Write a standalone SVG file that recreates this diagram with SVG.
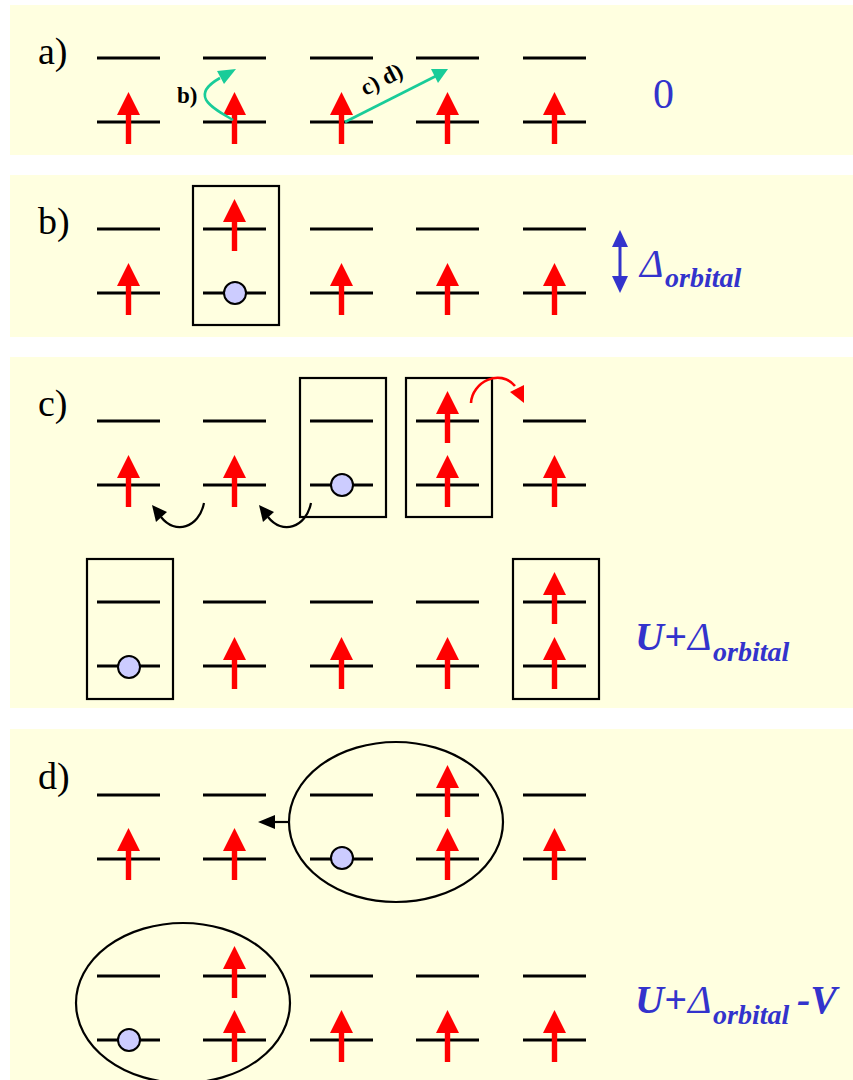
<svg xmlns="http://www.w3.org/2000/svg" width="853" height="1080" viewBox="0 0 853 1080">
<style>
.bg{fill:#FFFFE0}
.lv{stroke:#000;stroke-width:2.8;fill:none}
.box{stroke:#000;stroke-width:2.2;fill:none}
.hole{fill:#CCCCFF;stroke:#000;stroke-width:2}
text{font-family:'Liberation Serif','Times New Roman',serif}
.lab{font-size:38px;fill:#000}
.en{fill:#3333CC}
.grn{stroke:#19CC99;stroke-width:2.6;fill:none}
.grnh{fill:#19CC99}
.blk{stroke:#000;stroke-width:2.2;fill:none}
.red{stroke:#FF0000;stroke-width:2.6;fill:none}
.tag{font-size:23px;font-weight:bold;fill:#000}
</style>
<defs>
<path id="up" d="M0,-30 L11.5,-7 L2.7,-7 L2.7,22 L-2.7,22 L-2.7,-7 L-11.5,-7 Z" fill="#FF0000"/>
<g id="site">
<line class="lv" x1="-31.5" y1="0" x2="31.5" y2="0"/>
<line class="lv" x1="-31.5" y1="64" x2="31.5" y2="64"/>
</g>
</defs>
<rect width="853" height="1080" fill="#fff"/>
<rect class="bg" x="10" y="5" width="843" height="150"/>
<rect class="bg" x="10" y="175" width="843" height="162"/>
<rect class="bg" x="10" y="357" width="843" height="351"/>
<rect class="bg" x="10" y="729" width="843" height="351"/>

<g id="panel-a">
<text class="lab" x="38" y="64">a)</text>
<g id="a-s1"><use href="#site" x="128.5" y="58"/><use href="#up" x="128.5" y="122"/></g>
<g id="a-s2"><use href="#site" x="234.5" y="58"/><use href="#up" x="234.5" y="122"/></g>
<g id="a-s3"><use href="#site" x="341.5" y="58"/><use href="#up" x="341.5" y="122"/></g>
<g id="a-s4"><use href="#site" x="447.5" y="58"/><use href="#up" x="447.5" y="122"/></g>
<g id="a-s5"><use href="#site" x="554.5" y="58"/><use href="#up" x="554.5" y="122"/></g>
<text class="en" x="653" y="108" font-size="42">0</text>
</g>

<g id="panel-b">
<text class="lab" x="38" y="234">b)</text>
<g id="b-s1"><use href="#site" x="128.5" y="229"/><use href="#up" x="128.5" y="293"/></g>
<g id="b-s2"><rect class="box" x="193" y="186" width="86" height="139"/><use href="#site" x="234.5" y="229"/><use href="#up" x="234.5" y="229"/><circle class="hole" cx="235" cy="293" r="11"/></g>
<g id="b-s3"><use href="#site" x="341.5" y="229"/><use href="#up" x="341.5" y="293"/></g>
<g id="b-s4"><use href="#site" x="447.5" y="229"/><use href="#up" x="447.5" y="293"/></g>
<g id="b-s5"><use href="#site" x="554.5" y="229"/><use href="#up" x="554.5" y="293"/></g>
<g id="b-delta">
<line x1="620" y1="242" x2="620" y2="281" stroke="#3333CC" stroke-width="3"/>
<polygon points="620,230 612,247 628,247" fill="#3333CC"/>
<polygon points="620,293 612,276 628,276" fill="#3333CC"/>
<text class="en" x="640" y="277" font-size="40" font-style="italic">Δ</text>
<text class="en" x="665" y="287" font-size="28" font-style="italic" font-weight="bold">orbital</text>
</g>
</g>

<g id="panel-c">
<text class="lab" x="38" y="416">c)</text>
<g id="c-s1"><use href="#site" x="128.5" y="421"/><use href="#up" x="128.5" y="485"/></g>
<g id="c-s2"><use href="#site" x="234.5" y="421"/><use href="#up" x="234.5" y="485"/></g>
<g id="c-s3"><rect class="box" x="300" y="378" width="86" height="139"/><use href="#site" x="341.5" y="421"/><circle class="hole" cx="342" cy="485" r="11"/></g>
<g id="c-s4"><rect class="box" x="406" y="378" width="86" height="139"/><use href="#site" x="447.5" y="421"/><use href="#up" x="447.5" y="421"/><use href="#up" x="447.5" y="485"/></g>
<g id="c-s5"><use href="#site" x="554.5" y="421"/><use href="#up" x="554.5" y="485"/></g>

<g id="c2-s1"><rect class="box" x="87" y="559" width="86" height="140"/><use href="#site" x="128.5" y="602"/><circle class="hole" cx="129" cy="667" r="11"/></g>
<g id="c2-s2"><use href="#site" x="234.5" y="602"/><use href="#up" x="234.5" y="667"/></g>
<g id="c2-s3"><use href="#site" x="341.5" y="602"/><use href="#up" x="341.5" y="667"/></g>
<g id="c2-s4"><use href="#site" x="447.5" y="602"/><use href="#up" x="447.5" y="667"/></g>
<g id="c2-s5"><rect class="box" x="513" y="559" width="86" height="140"/><use href="#site" x="554.5" y="602"/><use href="#up" x="554.5" y="602"/><use href="#up" x="554.5" y="667"/></g>
<g id="c-energy">
<text class="en" x="635" y="650" font-size="40" font-style="italic" font-weight="bold">U+</text>
<text class="en" x="688" y="650" font-size="40" font-style="italic">Δ</text>
<text class="en" x="713" y="661" font-size="28" font-style="italic" font-weight="bold">orbital</text>
</g>
</g>

<g id="panel-d">
<text class="lab" x="38" y="789">d)</text>
<g id="d-s1"><use href="#site" x="128.5" y="795"/><use href="#up" x="128.5" y="858"/></g>
<g id="d-s2"><use href="#site" x="234.5" y="795"/><use href="#up" x="234.5" y="858"/></g>
<g id="d-pair1">
<ellipse cx="396" cy="822" rx="107" ry="80" fill="none" stroke="#000" stroke-width="2.2"/>
<g id="d-s3"><use href="#site" x="341.5" y="795"/><circle class="hole" cx="342" cy="858" r="11"/></g>
<g id="d-s4"><use href="#site" x="447.5" y="795"/><use href="#up" x="447.5" y="795"/><use href="#up" x="447.5" y="858"/></g>
</g>
<g id="d-s5"><use href="#site" x="554.5" y="795"/><use href="#up" x="554.5" y="858"/></g>

<g id="d2-pair">
<ellipse cx="183" cy="1003" rx="107" ry="80" fill="none" stroke="#000" stroke-width="2.2"/>
<g id="d2-s1"><use href="#site" x="128.5" y="976"/><circle class="hole" cx="129" cy="1040" r="11"/></g>
<g id="d2-s2"><use href="#site" x="234.5" y="976"/><use href="#up" x="234.5" y="976"/><use href="#up" x="234.5" y="1040"/></g>
</g>
<g id="d2-s3"><use href="#site" x="341.5" y="976"/><use href="#up" x="341.5" y="1040"/></g>
<g id="d2-s4"><use href="#site" x="447.5" y="976"/><use href="#up" x="447.5" y="1040"/></g>
<g id="d2-s5"><use href="#site" x="554.5" y="976"/><use href="#up" x="554.5" y="1040"/></g>
<g id="d-energy">
<text class="en" x="635" y="1013" font-size="40" font-style="italic" font-weight="bold">U+</text>
<text class="en" x="688" y="1013" font-size="40" font-style="italic">Δ</text>
<text class="en" x="713" y="1024" font-size="28" font-style="italic" font-weight="bold">orbital</text>
<text class="en" x="797" y="1013" font-size="40" font-style="italic" font-weight="bold">-V</text>
</g>
</g>

<g id="connectors">
<path class="grn" d="M233,120 C213,108 188,96 220,78"/>
<polygon class="grnh" points="236,69 217,71 224,84"/>
<text class="tag" x="177" y="103">b)</text>
<line class="grn" x1="345" y1="122" x2="436" y2="76"/>
<polygon class="grnh" points="448,69 431,69 438,83"/>
<text class="tag" x="385" y="86" text-anchor="middle" transform="rotate(-27 385 86)">c) d)</text>
<path class="blk" d="M204,503 C199,528 175,535 161,517"/>
<polygon points="152,505 167,512 156,522" fill="#000"/>
<path class="blk" d="M311,503 C306,528 282,535 268,517"/>
<polygon points="259,505 274,512 263,522" fill="#000"/>
<path class="red" d="M471,403 C472,382 500,368 515,386"/>
<polygon points="524,403 510,392 524,385" fill="#FF0000"/>
<line class="blk" x1="289" y1="822" x2="272" y2="822"/>
<polygon points="258,822 275,815 275,829" fill="#000"/>
</g>
</svg>
